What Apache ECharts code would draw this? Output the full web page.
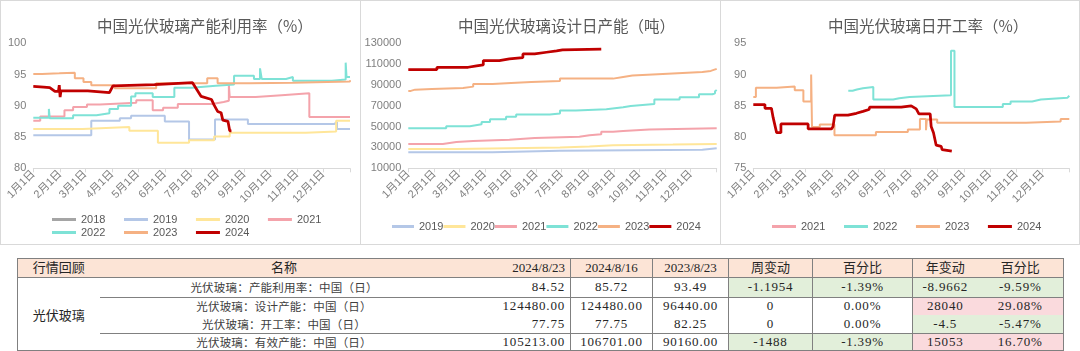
<!DOCTYPE html>
<html>
<head>
<meta charset="utf-8">
<script src="https://cdn.jsdelivr.net/npm/echarts@6/dist/echarts.min.js"></script>
<style>
  body { margin: 0; background: #fff; width: 1080px; height: 351px; overflow: hidden; position: relative; }
  .chart { position: absolute; top: 0; height: 245px; }
  .frame { position: absolute; top: 0; height: 245px; box-sizing: border-box; border: 1px solid #d9d9d9; pointer-events: none; }
  #review { position: absolute; left: 17px; top: 258px; width: 1046px; border-collapse: collapse; table-layout: fixed;
    border: 1px solid #808080; font-family: 'Liberation Serif', 'Noto Sans CJK SC', serif; color: #262626; }
  #review td { padding: 0; text-align: center; white-space: nowrap; overflow: hidden; font-size: 13px; }
  #review tr.head td { background: #fce4d6; height: 18px; line-height: 18px; border-bottom: 1px solid #808080; font-family: 'Liberation Serif', 'Noto Sans CJK SC', serif; }
  #review td.vl { border-left: 1px solid #808080; }
  #review td.name { font-family: 'Noto Sans CJK SC', sans-serif; font-size: 11.5px; color: #404040; letter-spacing: 0.2px; }
  #review td.group { font-family: 'Noto Sans CJK SC', sans-serif; font-size: 13px; }
  #review td.num { letter-spacing: 0.8px; }
  #review td.right { text-align: right; padding-right: 5px; }
  #review tr.sep td { border-bottom: 1px solid #808080; }
  #review td.down { background: #e2efda; }
  #review td.up { background: #fadadd; }
</style>
</head>
<body>
<div id="c1" class="chart" style="left:0;width:361px"></div>
<div id="c2" class="chart" style="left:360px;width:361px"></div>
<div id="c3" class="chart" style="left:720px;width:360px"></div>
<div class="frame" style="left:0;width:361px"></div>
<div class="frame" style="left:360px;width:361px"></div>
<div class="frame" style="left:720px;width:360px"></div>
<table id="review"></table>
<script>
// x axis is day of year (2024 calendar), ticks at month starts
const MONTH_START_DAYS = [0, 31, 60, 91, 121, 152, 182, 213, 244, 274, 305, 335];
const MONTH_LABELS = ['1月1日', '2月1日', '3月1日', '4月1日', '5月1日', '6月1日', '7月1日', '8月1日', '9月1日', '10月1日', '11月1日', '12月1日'];
const YEAR_END_DAY = 366;

const YEAR_COLORS = {
  '2018': '#a5a5a5',
  '2019': '#b4c7e7',
  '2020': '#ffe699',
  '2021': '#f4a3ab',
  '2022': '#7ee2d6',
  '2023': '#f5b183',
  '2024': '#c00000',
};

// 中国光伏玻璃产能利用率（%） — [day, value]
const util2018 = [];
const util2019 = [[0, 85.3], [67, 87.6], [100, 88.0], [113, 88.4], [152, 87.5], [180, 84.6], [210, 87.8], [248, 87.1], [348, 87.4], [351, 86.3], [366, 86.3]];
const util2020 = [[0, 86.3], [57, 86.6], [111, 86.0], [144, 84.1], [180, 84.5], [209, 85.1], [227, 85.7], [315, 85.9], [350, 87.6], [366, 87.6]];
const util2021 = [[0, 87.6], [8, 88.3], [36, 89.3], [46, 89.8], [62, 90.2], [77, 90.5], [119, 90.9], [138, 89.3], [150, 89.7], [167, 90.3], [207, 90.6], [220, 90.8], [226, 93.4], [227, 91.4], [257, 91.7], [287, 92.0], [319, 88.2], [366, 88.2]];
const util2022 = [[0, 88.1], [18, 89.5], [19, 88.0], [46, 88.5], [73, 88.8], [88, 89.5], [98, 90.0], [113, 91.5], [118, 92.0], [138, 91.4], [163, 92.9], [183, 93.2], [211, 93.4], [232, 94.8], [255, 94.3], [262, 96.0], [264, 94.3], [292, 94.6], [300, 94.0], [345, 94.2], [361, 96.9], [362, 94.6], [366, 94.6]];
const util2023 = [[0, 95.1], [10, 95.2], [30, 95.3], [48, 94.4], [58, 93.8], [67, 93.3], [94, 92.8], [142, 93.6], [201, 94.4], [213, 93.6], [250, 93.7], [300, 93.9], [366, 94.1]];
const util2024 = [[0, 93.1], [12, 93.0], [19, 92.9], [25, 92.3], [29, 92.3], [30, 93.3], [31, 91.4], [32, 92.4], [63, 92.4], [64, 92.1], [88, 92.1], [90, 92.4], [92, 93.2], [140, 93.4], [184, 93.7], [194, 91.5], [206, 91.0], [209, 90.1], [213, 89.1], [217, 88.9], [219, 87.7], [225, 87.5], [227, 86.0], [229, 86.0]];

// 中国光伏玻璃设计日产能（吨）
const cap2019 = [[0, 25400], [100, 26900], [180, 27900], [349, 29200], [366, 29200]];
const cap2020 = [[0, 28600], [57, 29900], [180, 30900], [215, 32100], [243, 32800], [314, 33400], [366, 33400]];
const cap2021 = [[0, 33400], [41, 35200], [57, 36200], [77, 37500], [120, 39000], [150, 40300], [203, 41800], [215, 42800], [229, 45000], [243, 45900], [255, 47300], [286, 48400], [366, 48400]];
const cap2022 = [[0, 48400], [45, 50400], [73, 52300], [87, 54500], [97, 57100], [116, 59600], [128, 61600], [168, 62500], [180, 65400], [199, 66700], [235, 68600], [255, 69900], [264, 71800], [292, 76000], [322, 78200], [345, 81100], [361, 82000], [364, 84000], [366, 85200]];
const cap2023 = [[0, 84300], [3, 85500], [8, 86100], [28, 87100], [65, 88400], [77, 91000], [100, 91900], [122, 92900], [146, 93900], [180, 96100], [243, 97700], [255, 99000], [266, 100600], [302, 102500], [349, 103500], [359, 105400], [366, 106000]];
const cap2024 = [[0, 104800], [34, 107000], [71, 108300], [81, 109200], [89, 113400], [108, 115000], [120, 116300], [136, 119800], [150, 121400], [164, 122700], [176, 123600], [183, 124480], [229, 124480]];

// 中国光伏玻璃日开工率（%）
const rate2021 = [];
const rate2022 = [[110, 87.4], [115, 87.6], [120, 87.8], [127, 88.0], [139, 86.0], [162, 86.2], [169, 86.4], [181, 86.7], [229, 93.8], [233, 84.8], [289, 85.3], [298, 85.7], [323, 86.0], [333, 86.3], [364, 86.6], [366, 86.6]];
const rate2023 = [[0, 86.4], [3, 87.9], [27, 88.1], [48, 87.5], [58, 85.7], [67, 90.0], [68, 81.6], [77, 82.0], [94, 80.3], [142, 80.8], [179, 81.2], [193, 82.9], [200, 81.1], [201, 82.8], [213, 82.3], [316, 82.5], [356, 82.9], [366, 82.9]];
const rate2024 = [[0, 85.2], [13.5, 85.2], [13.5, 84.6], [21, 84.6], [23, 83.1], [25, 83.0], [27, 80.7], [32, 80.7], [32, 82.1], [63.5, 82.1], [63.5, 81.3], [90.5, 81.3], [92.4, 81.7], [94.3, 83.5], [109.7, 83.5], [109.7, 83.8], [119.4, 83.8], [120, 84.1], [127, 84.1], [128, 84.4], [134, 84.4], [134.8, 84.8], [171.4, 84.8], [172.5, 85.0], [182.9, 85.0], [184, 85.3], [184.8, 84.8], [188.7, 84.5], [191.8, 83.7], [204.9, 83.7], [206, 81.7], [208.7, 80.7], [211.8, 78.7], [217.6, 78.5], [218.7, 78.0], [229.9, 77.75]];

// 行情回顾 table
const TABLE_HEAD = ['行情回顾', '名称', '2024/8/23', '2024/8/16', '2023/8/23', '周变动', '百分比', '年变动', '百分比'];
const TABLE_GROUP = '光伏玻璃';
const ROW_NAMES = ['光伏玻璃：产能利用率：中国（日）', '光伏玻璃：设计产能：中国（日）', '光伏玻璃：开工率：中国（日）', '光伏玻璃：有效产能：中国（日）'];
const VAL_20240823 = ['84.52', '124480.00', '77.75', '105213.00'];
const VAL_20240816 = ['85.72', '124480.00', '77.75', '106701.00'];
const VAL_20230823 = ['93.49', '96440.00', '82.25', '90160.00'];
const WEEK_CHANGE = ['-1.1954', '0', '0', '-1488'];
const WEEK_PCT = ['-1.39%', '0.00%', '0.00%', '-1.39%'];
const YEAR_CHANGE = ['-8.9662', '28040', '-4.5', '15053'];
const YEAR_PCT = ['-9.59%', '29.08%', '-5.47%', '16.70%'];

const AXIS_TEXT = '#7f7f7f';
const LEGEND_TEXT = '#595959';

function drawPanel(holder, cfg) {
  const chart = echarts.init(holder);
  const legends = cfg.legendRows.map((names, i) => ({
    data: names,
    left: cfg.legendLeft,
    top: cfg.legendTop + i * 13,
    padding: 0,
    itemGap: cfg.legendGap,
    itemWidth: cfg.legendIconWidth,
    itemHeight: 3,
    icon: 'rect',
    textStyle: { color: LEGEND_TEXT, fontSize: 11, fontFamily: 'Liberation Sans' },
  }));
  chart.setOption({
    animation: false,
    title: {
      text: cfg.title,
      left: cfg.titleLeft,
      top: 18,
      padding: 0,
      textStyle: { color: '#595959', fontSize: 15.5, fontWeight: 'normal', fontFamily: 'Noto Sans CJK SC', lineHeight: 16 },
    },
    legend: legends,
    grid: { left: cfg.gridLeft, top: 43.3, width: cfg.gridWidth, height: 125 },
    xAxis: {
      type: 'value',
      min: 0,
      max: YEAR_END_DAY,
      axisLine: { show: true, onZero: false, lineStyle: { color: '#d9d9d9' } },
      axisTick: { show: true, length: 4, customValues: [...MONTH_START_DAYS, YEAR_END_DAY], lineStyle: { color: '#d9d9d9' } },
      axisLabel: {
        customValues: MONTH_START_DAYS,
        rotate: 45,
        margin: 4,
        color: AXIS_TEXT,
        fontSize: 11,
        fontFamily: 'Liberation Sans, Noto Sans CJK SC',
        formatter: (v) => MONTH_LABELS[MONTH_START_DAYS.indexOf(v)],
      },
      splitLine: { show: false },
    },
    yAxis: {
      type: 'value',
      min: cfg.yMin,
      max: cfg.yMax,
      interval: cfg.yStep,
      axisLine: { show: false },
      axisTick: { show: false },
      splitLine: { show: false },
      axisLabel: { color: AXIS_TEXT, fontSize: 11, margin: 7, fontFamily: 'Liberation Sans', formatter: (v) => String(v) },
    },
    series: cfg.series.map((s) => ({
      name: s.name,
      type: 'line',
      data: s.data,
      step: s.step === false ? false : 'end',
      symbol: 'none',
      showSymbol: false,
      color: YEAR_COLORS[s.name],
      lineStyle: { width: s.name === '2024' ? 2.75 : 2, color: YEAR_COLORS[s.name] },
    })),
  });
}

drawPanel(document.getElementById('c1'), {
  title: '中国光伏玻璃产能利用率（%）',
  titleLeft: 97,
  gridLeft: 33.3,
  gridWidth: 316.7,
  yMin: 80, yMax: 100, yStep: 5,
  legendRows: [['2018', '2019', '2020', '2021'], ['2022', '2023', '2024']],
  legendLeft: 52, legendTop: 214, legendGap: 18.5, legendIconWidth: 24,
  series: [
    { name: '2018', data: util2018 },
    { name: '2019', data: util2019 },
    { name: '2020', data: util2020 },
    { name: '2021', data: util2021 },
    { name: '2022', data: util2022 },
    { name: '2023', data: util2023 },
    { name: '2024', data: util2024, step: false },
  ],
});

drawPanel(document.getElementById('c2'), {
  title: '中国光伏玻璃设计日产能（吨）',
  titleLeft: 98,
  gridLeft: 48.3,
  gridWidth: 308.4,
  yMin: 10000, yMax: 130000, yStep: 20000,
  legendRows: [['2019', '2020', '2021', '2022', '2023', '2024']],
  legendLeft: 32, legendTop: 221, legendGap: 0, legendIconWidth: 22,
  series: [
    { name: '2019', data: cap2019 },
    { name: '2020', data: cap2020 },
    { name: '2021', data: cap2021 },
    { name: '2022', data: cap2022 },
    { name: '2023', data: cap2023 },
    { name: '2024', data: cap2024 },
  ],
});

drawPanel(document.getElementById('c3'), {
  title: '中国光伏玻璃日开工率（%）',
  titleLeft: 108,
  gridLeft: 33.3,
  gridWidth: 316,
  yMin: 75, yMax: 95, yStep: 5,
  legendRows: [['2021', '2022', '2023', '2024']],
  legendLeft: 52, legendTop: 221, legendGap: 18.5, legendIconWidth: 24,
  series: [
    { name: '2021', data: rate2021 },
    { name: '2022', data: rate2022 },
    { name: '2023', data: rate2023 },
    { name: '2024', data: rate2024, step: false },
  ],
});

// table
function changeClass(v) {
  const n = parseFloat(v);
  if (n < 0) return ' down';
  if (n > 0) return ' up';
  return '';
}

function buildTable(table) {
  const vlCols = [3, 4, 5, 6, 7];
  let html = '<colgroup>' + [82, 369, 102, 82, 76, 84, 100, 65, 86].map((w) => `<col style="width:${w}px">`).join('') + '</colgroup>';
  html += '<tr class="head">' + TABLE_HEAD.map((h, i) => `<td class="${vlCols.includes(i) ? 'vl' : ''}${i === 2 ? ' right' : ''}">${h}</td>`).join('') + '</tr>';
  const heights = [19.5, 18, 18, 17.5];
  ROW_NAMES.forEach((name, r) => {
    const sep = (r === 0 || r === 2) ? ' class="sep"' : '';
    let row = `<tr${sep} style="height:${heights[r]}px">`;
    if (r === 0) row += `<td class="group" rowspan="4">${TABLE_GROUP}</td>`;
    row += `<td class="name">${name}</td>`;
    row += `<td class="num right">${VAL_20240823[r]}</td>`;
    row += `<td class="num vl">${VAL_20240816[r]}</td>`;
    row += `<td class="num vl">${VAL_20230823[r]}</td>`;
    row += `<td class="num vl${changeClass(WEEK_CHANGE[r])}">${WEEK_CHANGE[r]}</td>`;
    row += `<td class="num vl${changeClass(WEEK_CHANGE[r])}">${WEEK_PCT[r]}</td>`;
    row += `<td class="num vl${changeClass(YEAR_CHANGE[r])}">${YEAR_CHANGE[r]}</td>`;
    row += `<td class="num${changeClass(YEAR_CHANGE[r])}">${YEAR_PCT[r]}</td>`;
    row += '</tr>';
    html += row;
  });
  table.innerHTML = html;
}

buildTable(document.getElementById('review'));
</script>
</body>
</html>
